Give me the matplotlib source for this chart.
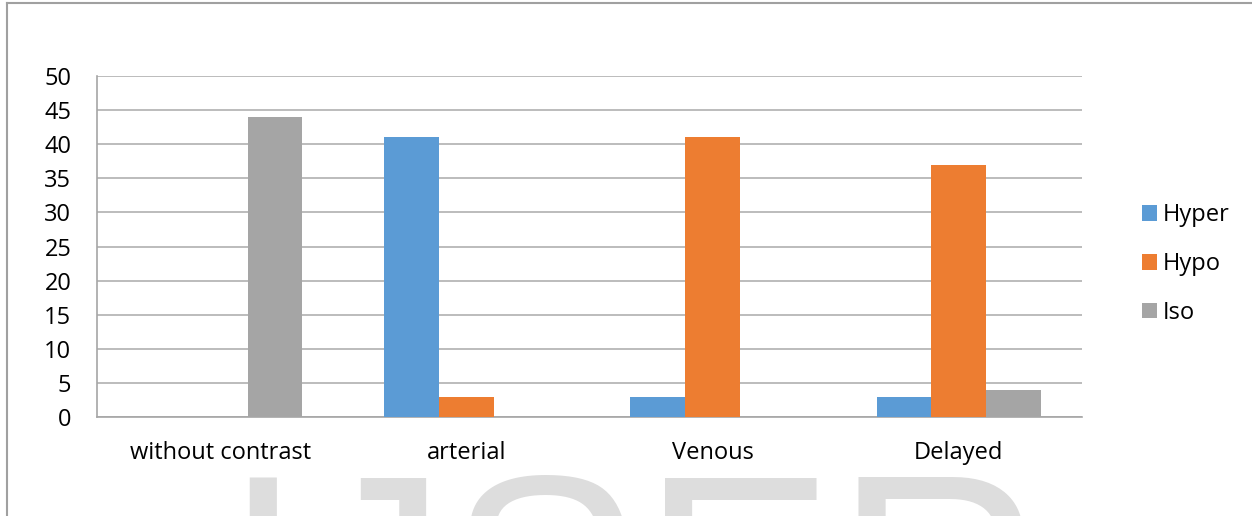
import matplotlib
matplotlib.use("Agg")
import matplotlib.pyplot as plt
from matplotlib.lines import Line2D
import numpy as np

categories = ["without contrast", "arterial", "Venous", "Delayed"]
hyper = [0, 41, 3, 3]
hypo = [0, 3, 41, 37]
iso = [44, 0, 0, 4]
series_names = ["Hyper", "Hypo", "Iso"]
colors = ["#5B9BD5", "#ED7D31", "#A5A5A5"]
yticks = [0, 5, 10, 15, 20, 25, 30, 35, 40, 45, 50]

W, H = 1252, 516
fig = plt.figure(figsize=(W / 100, H / 100), dpi=100)
plt.rcParams['font.family'] = ['Open Sans', 'DejaVu Sans']
FS = 17

# watermark
fig.text(222 / W, (H - 677) / H, "IJSER", fontsize=209, color="#DDDDDD",
         family="Liberation Sans", ha="left", va="baseline", zorder=0)

ax = fig.add_axes([97 / W, (H - 417) / H, 985 / W, 341 / H])
ax.set_zorder(2)
ax.patch.set_alpha(0)

x = np.arange(len(categories))
bw = 0.223
for i, (vals, name, c) in enumerate(zip([hyper, hypo, iso], series_names, colors)):
    ax.bar(x + (i - 1) * bw, vals, width=bw, color=c, label=name, zorder=3)

ax.set_xlim(-0.5, len(categories) - 0.5)
ax.set_ylim(0, 50)
ax.set_yticks(yticks)
ax.set_yticklabels([str(v) for v in yticks], fontsize=FS, color="#000000")
ax.set_xticks(x)
ax.set_xticklabels(categories, fontsize=FS, color="#000000")
ax.tick_params(axis="both", length=0)
ax.tick_params(axis="y", pad=18.5)
ax.tick_params(axis="x", pad=17)
ax.yaxis.grid(True, color="#B0B0B0", linewidth=1.2, zorder=0)
ax.set_axisbelow(True)
for s in ["top", "right"]:
    ax.spines[s].set_visible(False)
for s in ["left", "bottom"]:
    ax.spines[s].set_color("#A6A6A6")
    ax.spines[s].set_linewidth(1.2)

leg = ax.legend(loc="center left", bbox_to_anchor=((1142 - 97) / 985, (417 - 264) / 341),
                frameon=False, fontsize=FS, handlelength=0.64, handleheight=0.64,
                labelspacing=1.05, handletextpad=0.25, borderpad=0, borderaxespad=0)

# outer frame
fig.add_artist(Line2D([7 / W, 7 / W], [0, (H - 3) / H], color="#A0A0A0", lw=1.5))
fig.add_artist(Line2D([7 / W, 1], [(H - 3) / H, (H - 3) / H], color="#A0A0A0", lw=1.5))

fig.savefig("out.png", dpi=100)
